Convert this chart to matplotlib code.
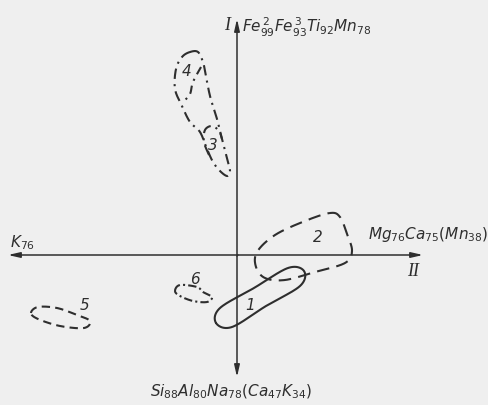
import numpy as np
import matplotlib
matplotlib.use("Agg")
import matplotlib.pyplot as plt

plt.rcParams['mathtext.fontset'] = 'custom'
plt.rcParams['mathtext.it'] = 'Liberation Sans Narrow:italic'
plt.rcParams['mathtext.rm'] = 'Liberation Sans Narrow'
plt.rcParams['mathtext.default'] = 'it'

# outline points of the fields, axis crossing at (0, 0)
field1 = [(-22, -67), (-18, -52), (16, -32), (50, -12), (66, -15), (62, -30), (28, -50), (-6, -71)]
field2 = [(92, 43), (102, 39), (109, 22), (114, 5), (107, -7), (77, -16), (47, -24),
          (27, -22), (18, -11), (19, 4), (37, 21), (67, 35)]
field34 = [(-48, 204), (-40, 204), (-35, 194), (-33, 185), (-28, 160), (-21, 137), (-16, 117),
           (-10, 94), (-8, 84), (-11, 80), (-18, 85), (-25, 94), (-31, 107), (-38, 124),
           (-48, 134), (-56, 150), (-63, 167), (-62, 187), (-56, 199)]
field4_inner = [(-37, 189), (-45, 174), (-48, 162), (-54, 155)]
field3_arc = [(-29, 101), (-34, 114), (-33, 126), (-26, 130), (-19, 125), (-16, 117)]
field5 = [(-207, -57), (-200, -51), (-181, -52), (-161, -59), (-148, -65), (-154, -72),
          (-178, -70), (-200, -63)]
field6 = [(-63, -35), (-58, -29), (-41, -31), (-35, -36), (-26, -41), (-31, -46),
          (-45, -45), (-58, -40)]

labels = ['1', '2', '3', '4', '5', '6']
label_xy = [(12, -48), (80, 19), (-25, 112), (-51, 185), (-153, -48), (-43, -23)]

axis_I = r'$Fe^{\,2}_{99}Fe^{\,3}_{93}Ti_{92}Mn_{78}$'
axis_II = r'$Mg_{76}Ca_{75}(Mn_{38})$'
axis_K = r'$K_{76}$'
axis_Si = r'$Si_{88}Al_{80}Na_{78}(Ca_{47}K_{34})$'


def smooth(pts, closed=True, n=24):
    # Catmull-Rom spline through the outline points
    p = np.asarray(pts, float)
    if closed:
        p = np.vstack([p[-1], p, p[0], p[1]])
    else:
        p = np.vstack([p[0], p, p[-1]])
    t = np.linspace(0, 1, n, endpoint=False)[:, None]
    out = []
    for i in range(1, len(p) - 2):
        p0, p1, p2, p3 = p[i - 1], p[i], p[i + 1], p[i + 2]
        out.append(0.5 * (2 * p1 + (-p0 + p2) * t + (2 * p0 - 5 * p1 + 4 * p2 - p3) * t ** 2
                          + (-p0 + 3 * p1 - 3 * p2 + p3) * t ** 3))
    out.append(p[-2][None])
    return np.vstack(out)


bg = '#efefef'
ink = '#2e2e2e'

fig = plt.figure(figsize=(4.88, 4.06), dpi=100, facecolor=bg)
ax = fig.add_axes([0, 0, 1, 1])
ax.set_facecolor(bg)
ax.set_xlim(-238, 250)
ax.set_ylim(-149, 257)
ax.axis('off')

# axes with arrows
arr = dict(arrowstyle='-|>,head_length=0.7,head_width=0.16', color=ink, lw=1.1,
           shrinkA=0, shrinkB=0)
ax.annotate('', xy=(185, 1), xytext=(0, 1), arrowprops=arr)
ax.annotate('', xy=(-230, 1), xytext=(0, 1), arrowprops=arr)
ax.annotate('', xy=(-1, 237), xytext=(-1, 0), arrowprops=arr)
ax.annotate('', xy=(-1, -121), xytext=(-1, 0), arrowprops=arr)

lw = 1.5
c = smooth(field1)
ax.plot(c[:, 0], c[:, 1], color=ink, lw=lw, solid_capstyle='round')
c = smooth(field2)
ax.plot(c[:, 0], c[:, 1], color=ink, lw=lw, dashes=(6, 3.5))
c = smooth(field34)
ax.plot(c[:, 0], c[:, 1], color=ink, lw=lw, dashes=(5, 2.5, 1, 2.5))
c = smooth(field4_inner, closed=False)
ax.plot(c[:, 0], c[:, 1], color=ink, lw=lw, dashes=(4, 2.5, 1, 2.5))
c = smooth(field3_arc, closed=False)
ax.plot(c[:, 0], c[:, 1], color=ink, lw=lw, dashes=(5, 2.5, 1, 2.5))
c = smooth(field5)
ax.plot(c[:, 0], c[:, 1], color=ink, lw=lw, dashes=(4, 2.5))
c = smooth(field6)
ax.plot(c[:, 0], c[:, 1], color=ink, lw=lw, dashes=(4, 1.5, 1, 1.5))

for lab, (x, y) in zip(labels, label_xy):
    ax.text(x, y, lab, fontsize=11, style='italic', color=ink, ha='center', va='center',
            family='Liberation Sans Narrow')

ax.text(-11, 232, 'I', fontsize=13, style='italic', color=ink, ha='center', va='center',
        family='Liberation Serif')
ax.text(175, -15, 'II', fontsize=13, style='italic', color=ink, ha='center', va='center',
        family='Liberation Serif')
ax.text(4, 230, axis_I, fontsize=11, color=ink, ha='left', va='center')
ax.text(130, 22, axis_II, fontsize=11, color=ink, ha='left', va='center')
ax.text(-228, 14, axis_K, fontsize=11, color=ink, ha='left', va='center')
ax.text(-88, -135, axis_Si, fontsize=11, color=ink, ha='left', va='center')

fig.savefig('out.png', dpi=100, facecolor=bg)
